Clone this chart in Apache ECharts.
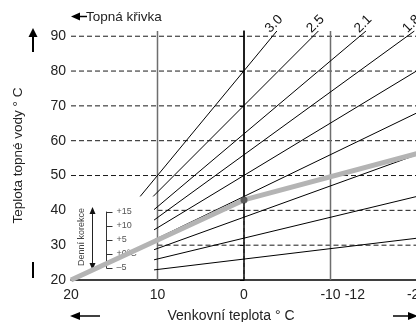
<!DOCTYPE html>
<html>
<head>
<meta charset="utf-8">
<script src="https://cdn.jsdelivr.net/npm/echarts@6/dist/echarts.min.js"></script>
<style>
  html, body { margin: 0; padding: 0; background: #fff; }
  #chart { width: 416px; height: 322px; }
</style>
</head>
<body>
<div id="chart"></div>
<script>
  // osy
  var xTicks = [20, 10, 0, -10, -12, -20];
  var yTicks = [20, 30, 40, 50, 60, 70, 80, 90];
  var yTop = 91.5;

  // topne krivky: nazev, zacatek a konec (venkovni teplota, teplota vody)
  var curveNames = ['3.0', '2.5', '2.1', '1.8', '1.5', '1.2', '0.9', '0.6', '0.3'];
  var curveStart = [[12, 44], [10.5, 44], [10.4, 40.2], [10.4, 37.2], [10.4, 34.4], [10.4, 31.5], [10.4, 28.7], [10.4, 25.8], [10.4, 22.9]];
  var curveEnd = [[-3.8, 91.5], [-8.6, 91.5], [-14.1, 91.5], [-19.7, 91.5], [-20, 80.1], [-20, 68], [-20, 56], [-20, 44], [-20, 32]];

  // vodorovne carkovane cary (od x, uroven)
  var hLevels = [90, 80, 70, 60, 50, 40, 30];
  var hFrom = [20, 20, 20, 20, 20, 10, 10];

  // svisle referencni cary
  var vGray = [10, -10];
  var zeroSolid = [[0, 91.5], [0, 43]];
  var zeroDashed = [[0, 43], [0, 20]];

  // nastavena krivka (seda) a pracovni bod
  var setCurve = [[20, 20], [0, 43], [-20, 56.3]];
  var setPoint = [[0, 43]];

  // denni korekce
  var corrTicks = [-5, 0, 5, 10, 15];

  var fontFam = '"Liberation Sans", Arial, sans-serif';

  var series = [];

  for (var i = 0; i < hLevels.length; i++) {
    series.push({
      type: 'line',
      silent: true,
      symbol: 'none',
      z: 1,
      lineStyle: { color: '#1a1a1a', width: 1, type: [5, 3] },
      data: [[hFrom[i], hLevels[i]], [-20, hLevels[i]]]
    });
  }

  for (var i = 0; i < vGray.length; i++) {
    series.push({
      type: 'line',
      silent: true,
      symbol: 'none',
      z: 2,
      lineStyle: { color: '#6e6e6e', width: 1.5 },
      data: [[vGray[i], 20], [vGray[i], yTop]]
    });
  }

  series.push({
    type: 'line', silent: true, symbol: 'none', z: 2,
    lineStyle: { color: '#000', width: 1 },
    data: zeroSolid
  });
  series.push({
    type: 'line', silent: true, symbol: 'none', z: 2,
    lineStyle: { color: '#222', width: 1.2, type: [4, 3] },
    data: zeroDashed
  });

  for (var i = 0; i < curveNames.length; i++) {
    var atTop = curveEnd[i][1] >= yTop;
    series.push({
      type: 'line',
      silent: true,
      symbol: 'circle',
      symbolSize: 0.1,
      showAllSymbol: true,
      z: 3,
      itemStyle: { color: '#000' },
      lineStyle: { color: '#000', width: 1 },
      data: [
        curveStart[i],
        {
          value: curveEnd[i],
          label: {
            show: atTop,
            formatter: curveNames[i],
            position: 'inside',
            rotate: 45,
            offset: [3, -7],
            align: 'center',
            verticalAlign: 'middle',
            color: '#111',
            fontSize: 13.5,
            fontFamily: fontFam
          }
        }
      ]
    });
  }

  series.push({
    type: 'line', silent: true, symbol: 'none', z: 4,
    lineStyle: { color: '#b4b4b4', width: 5 },
    data: setCurve
  });
  series.push({
    type: 'scatter', silent: true, z: 5,
    symbolSize: 7,
    itemStyle: { color: '#444' },
    data: setPoint
  });

  var option = {
    animation: false,
    backgroundColor: '#fff',
    grid: [
      { left: 71, right: -1, top: 31, bottom: 42, outerBoundsMode: 'none', containLabel: false },
      { left: 106.5, top: 212, width: 20, height: 56, outerBoundsMode: 'none', containLabel: false }
    ],
    xAxis: [{
      type: 'value',
      min: -20,
      max: 20,
      inverse: true,
      name: 'Venkovní teplota ° C',
      nameLocation: 'middle',
      nameGap: 29,
      nameTextStyle: { color: '#222', fontSize: 14, fontFamily: fontFam, padding: [0, 26, 0, 0] },
      axisLine: { lineStyle: { color: '#000', width: 1.5 } },
      axisTick: { show: false },
      splitLine: { show: false },
      axisLabel: {
        customValues: xTicks,
        margin: 8,
        color: '#222',
        fontSize: 14,
        fontFamily: fontFam,
        formatter: function (v) {
          if (v === -12) return '{r|-12}';
          return String(v);
        },
        rich: { r: { fontSize: 14, fontFamily: fontFam, color: '#222', padding: [0, 0, 0, 14] } }
      }
    }, {
      gridIndex: 1, type: 'value', min: 0, max: 1, show: false
    }],
    yAxis: [{
      type: 'value',
      min: 20,
      max: yTop,
      name: 'Teplota topné vody ° C',
      nameLocation: 'middle',
      nameGap: 46,
      nameTextStyle: { color: '#222', fontSize: 13.5, fontFamily: fontFam },
      axisLine: { lineStyle: { color: '#000', width: 1.5 } },
      axisTick: { customValues: yTicks, length: 4, lineStyle: { color: '#000', width: 1 } },
      splitLine: { show: false },
      axisLabel: { customValues: yTicks, margin: 5, color: '#222', fontSize: 14, fontFamily: fontFam }
    }, {
      gridIndex: 1,
      type: 'value',
      min: -5,
      max: 15,
      position: 'left',
      axisLine: { show: true, lineStyle: { color: '#333', width: 1 } },
      axisTick: { show: true, inside: true, length: 6, customValues: corrTicks, lineStyle: { color: '#333', width: 1 } },
      splitLine: { show: false },
      axisLabel: {
        customValues: corrTicks,
        inside: true,
        margin: 10,
        color: '#555',
        fontSize: 9,
        fontFamily: fontFam,
        formatter: function (v) {
          if (v === 0) return '+0°C';
          if (v > 0) return '+' + v;
          return '–' + Math.abs(v);
        }
      }
    }],
    graphic: [
      // sipka nahoru u osy y
      { type: 'polygon', shape: { points: [[33, 28], [28.5, 37], [37.5, 37]] }, style: { fill: '#000' } },
      { type: 'line', shape: { x1: 33, y1: 36, x2: 33, y2: 52 }, style: { stroke: '#000', lineWidth: 2 } },
      { type: 'line', shape: { x1: 33, y1: 262, x2: 33, y2: 278 }, style: { stroke: '#000', lineWidth: 2 } },
      // Topna krivka
      { type: 'polygon', shape: { points: [[71, 16.5], [80, 12.5], [80, 20.5]] }, style: { fill: '#000' } },
      { type: 'line', shape: { x1: 79, y1: 16.5, x2: 87, y2: 16.5 }, style: { stroke: '#000', lineWidth: 1.5 } },
      { type: 'text', x: 86, y: 17, style: { text: 'Topná křivka', fill: '#222', font: '13.5px ' + fontFam, verticalAlign: 'middle' } },
      // sipky u osy x
      { type: 'polygon', shape: { points: [[70, 316], [80, 312], [80, 320]] }, style: { fill: '#000' } },
      { type: 'line', shape: { x1: 79, y1: 316, x2: 100, y2: 316 }, style: { stroke: '#000', lineWidth: 1.5 } },
      { type: 'polygon', shape: { points: [[418, 316], [408, 312], [408, 320]] }, style: { fill: '#000' } },
      { type: 'line', shape: { x1: 393, y1: 316, x2: 409, y2: 316 }, style: { stroke: '#000', lineWidth: 1.5 } },
      // Denni korekce
      { type: 'text', x: 81.5, y: 237, rotation: Math.PI / 2, style: { text: 'Denní korekce', fill: '#444', font: '9px ' + fontFam, align: 'center', verticalAlign: 'middle' } },
      { type: 'line', shape: { x1: 92.5, y1: 212, x2: 92.5, y2: 265 }, style: { stroke: '#222', lineWidth: 1 } },
      { type: 'polygon', shape: { points: [[92.5, 207], [89.5, 214], [95.5, 214]] }, style: { fill: '#111' } },
      { type: 'polygon', shape: { points: [[92.5, 270], [89.5, 263], [95.5, 263]] }, style: { fill: '#111' } }
    ],
    series: series
  };

  var chart = echarts.init(document.getElementById('chart'));
  chart.setOption(option);

  window.addEventListener('resize', function () {
    chart.resize();
  });
</script>
</body>
</html>
